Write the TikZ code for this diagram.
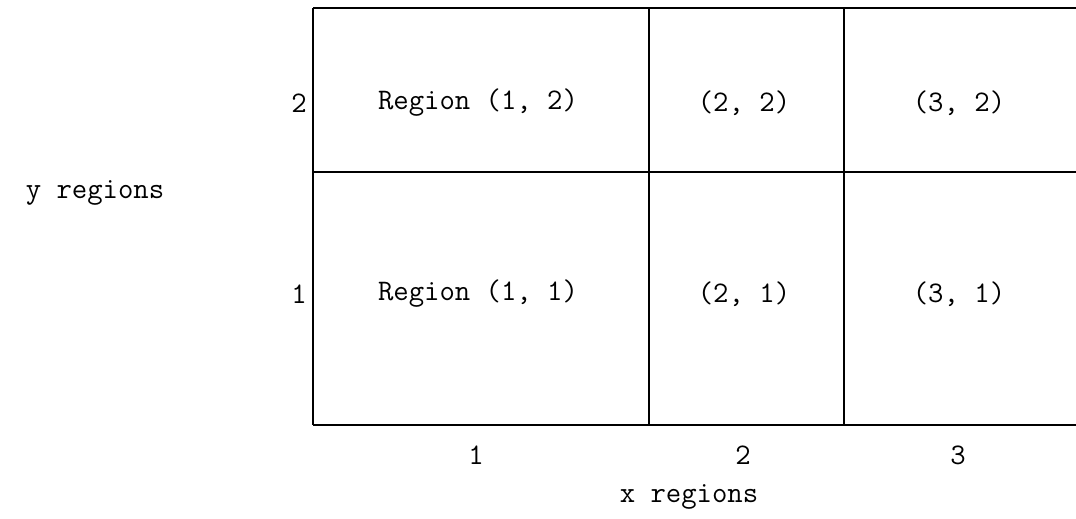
\documentclass[tikz,border=0pt]{standalone}
\usepackage{tikz}
\usetikzlibrary{positioning}

\begin{document}
\begin{tikzpicture}[
    x=0.02cm, y=-0.02cm,
    gridline/.style={line width=1.4pt, black},
    celltext/.style={font=\ttfamily\fontsize{17}{20}\selectfont, inner sep=0pt},
    axistext/.style={font=\ttfamily\fontsize{17}{20}\selectfont, inner sep=0pt}
]
    \useasboundingbox (0,0) rectangle (1076,518);
    % grid lines
    \draw[gridline] (313,8) -- (1076,8) (313,172) -- (1076,172) (313,425) -- (1076,425);
    \foreach \xx in {313,649,844}
        \draw[gridline] (\xx,8) -- (\xx,425);
    % regions
    \node[celltext] (r12) at (478,103) {Region (1, 2)};
    \node[celltext] (r22) at (744,103) {(2, 2)};
    \node[celltext] (r32) at (959,103) {(3, 2)};
    \node[celltext] (r11) at (478,294) {Region (1, 1)};
    \node[celltext] (r21) at (744,294) {(2, 1)};
    \node[celltext] (r31) at (959,294) {(3, 1)};
    % y axis
    \node[axistext] (y2) at (299,103) {2};
    \node[axistext] (y1) at (299,294) {1};
    \node[axistext] (ylab) at (95,193) {y regions};
    % x axis
    \node[axistext] (x1) at (476,455) {1};
    \node[axistext] (x2) at (743,455) {2};
    \node[axistext] (x3) at (958,455) {3};
    \node[axistext] (xlab) at (689,497) {x regions};
\end{tikzpicture}
\end{document}
